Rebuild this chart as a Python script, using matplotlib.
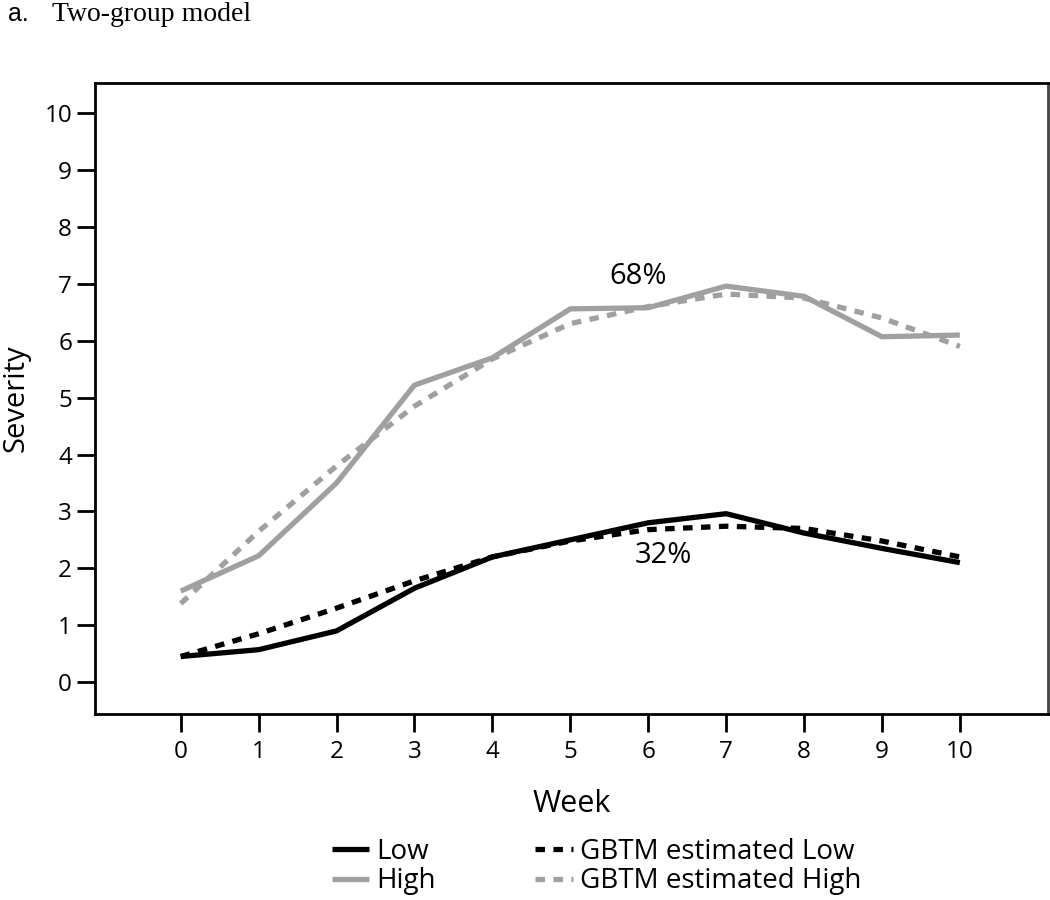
import matplotlib
matplotlib.use('Agg')
import matplotlib.pyplot as plt

weeks = [0, 1, 2, 3, 4, 5, 6, 7, 8, 9, 10]
low = [0.45, 0.57, 0.9, 1.65, 2.2, 2.5, 2.8, 2.96, 2.62, 2.35, 2.1]
low_est = [0.45, 0.85, 1.3, 1.78, 2.2, 2.48, 2.68, 2.74, 2.7, 2.48, 2.2]
high = [1.6, 2.22, 3.5, 5.22, 5.7, 6.56, 6.58, 6.96, 6.78, 6.07, 6.1]
high_est = [1.38, 2.65, 3.8, 4.85, 5.68, 6.3, 6.6, 6.82, 6.75, 6.4, 5.9]
yticks = list(range(0, 11))

plt.rcParams['font.family'] = ['Open Sans', 'DejaVu Sans']

fig = plt.figure(figsize=(10.5, 9), dpi=100)
ax = fig.add_axes([0.0905, 0.2067, 0.9075, 0.7011])

gray = '#a0a0a0'
ax.plot(weeks, low, color='black', lw=3.8, label='Low', solid_capstyle='butt')
ax.plot(weeks, high, color=gray, lw=3.8, label='High', solid_capstyle='butt')
ax.plot(weeks, low_est, color='black', lw=3.8, dashes=(1.8, 1.6), label='GBTM estimated Low')
ax.plot(weeks, high_est, color=gray, lw=3.8, dashes=(1.8, 1.6), label='GBTM estimated High')

ax.text(5.87, 7.13, '68%', fontsize=21, ha='center', va='center')
ax.text(6.2, 2.23, '32%', fontsize=21, ha='center', va='center')

ax.set_xlim(-1.1, 11.13)
ax.set_ylim(-0.56, 10.53)
ax.set_xticks(weeks)
ax.set_yticks(yticks)
ax.tick_params(labelsize=17.5, length=13, width=2, direction='out')
ax.tick_params(axis='x', pad=6)
for s in ax.spines.values():
    s.set_linewidth(2)
ax.spines['right'].set_color('#444444')
ax.set_xlabel('Week', fontsize=22, labelpad=18)
ax.set_ylabel('Severity', fontsize=21, labelpad=10)

# title: "a." in sans, rest in serif
fig.text(0.008, 0.984, 'a.', fontsize=18, family='Liberation Sans', va='center')
fig.text(0.05, 0.984, 'Two-group model', fontsize=20, family='Liberation Serif', va='center')

leg = fig.legend(loc='center', bbox_to_anchor=(0.568, 0.037), ncol=2, frameon=False,
                 fontsize=20, handlelength=1.35, handletextpad=0.25, columnspacing=3.6,
                 labelspacing=0.05)

fig.savefig('out.png', dpi=100)
